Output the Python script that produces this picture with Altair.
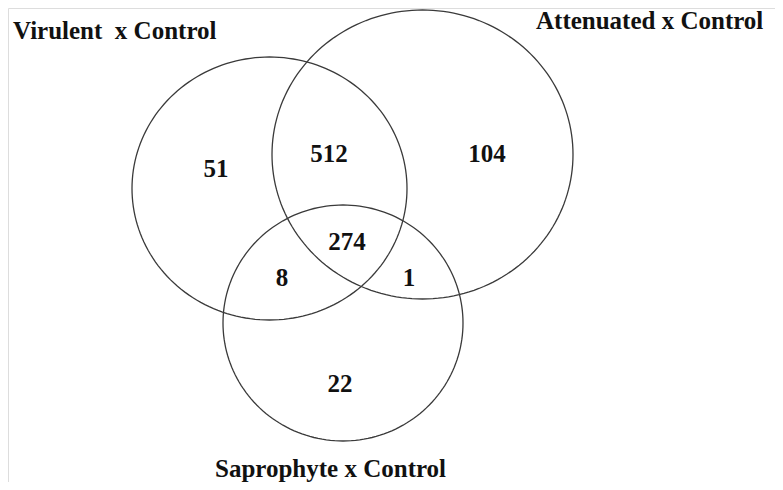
import altair as alt
import pandas as pd

# Venn sets (pixel-space geometry)
set_names = ["Virulent", "Attenuated", "Saprophyte"]
center_x = [269.5, 422.5, 343.0]
center_y = [188.5, 154.5, 323.0]
radius_x = [137.5, 150.5, 120.0]
radius_y = [131.5, 144.5, 118.0]

# Set titles (left edge, baseline)
title_text = ["Virulent\u00a0 x Control", "Attenuated x Control", "Saprophyte x Control"]
title_x = [13.0, 536.0, 215.0]
title_y = [39.0, 29.0, 477.0]

# Region counts
count_text = ["51", "512", "104", "274", "8", "1", "22"]
count_x = [216.0, 329.0, 487.0, 347.0, 282.0, 409.0, 340.0]
count_y = [169.0, 154.0, 154.0, 242.0, 278.0, 278.0, 384.0]

W, H = 767, 474
xs = alt.Scale(domain=[8, 8 + W], nice=False, zero=False)
ys = alt.Scale(domain=[8 + H, 8], nice=False, zero=False)

sets_df = pd.DataFrame({"set": set_names, "cx": center_x, "cy": center_y,
                        "rx": radius_x, "ry": radius_y})

circles = (
    alt.Chart(sets_df)
    .transform_calculate(dummy="1")
    .transform_lookup(lookup="dummy", from_=alt.LookupData(
        data=alt.Data(values=[{"dummy": "1", "angles": list(range(0, 361, 2))}]),
        key="dummy", fields=["angles"]))
    .transform_flatten(["angles"], as_=["deg"])
    .transform_calculate(
        px="datum.cx + datum.rx * cos(datum.deg * PI / 180)",
        py="datum.cy + datum.ry * sin(datum.deg * PI / 180)",
    )
    .mark_line(color="#3a3a3a", strokeWidth=1.3, clip=False)
    .encode(
        x=alt.X("px:Q", scale=xs, axis=None),
        y=alt.Y("py:Q", scale=ys, axis=None),
        detail="set:N",
        order="deg:Q",
    )
)

titles_df = pd.DataFrame({"t": title_text, "x": title_x, "y": title_y})
titles = (
    alt.Chart(titles_df)
    .mark_text(font="Liberation Serif", fontWeight="bold", fontSize=25,
               color="#111111", align="left", baseline="alphabetic")
    .encode(x=alt.X("x:Q", scale=xs, axis=None),
            y=alt.Y("y:Q", scale=ys, axis=None), text="t:N")
)

counts_df = pd.DataFrame({"t": count_text, "x": count_x, "y": count_y})
counts = (
    alt.Chart(counts_df)
    .mark_text(font="Liberation Serif", fontWeight="bold", fontSize=25,
               color="#111111", align="center", baseline="middle")
    .encode(x=alt.X("x:Q", scale=xs, axis=None),
            y=alt.Y("y:Q", scale=ys, axis=None), text="t:N")
)

chart = (
    alt.layer(circles, titles, counts)
    .properties(width=W, height=H, padding=0,
                autosize=alt.AutoSizeParams(type="none"))
    .configure_view(stroke=None)
    .configure(background="white")
)

chart.save("out.html", embed_options={"renderer": "svg", "actions": False})
